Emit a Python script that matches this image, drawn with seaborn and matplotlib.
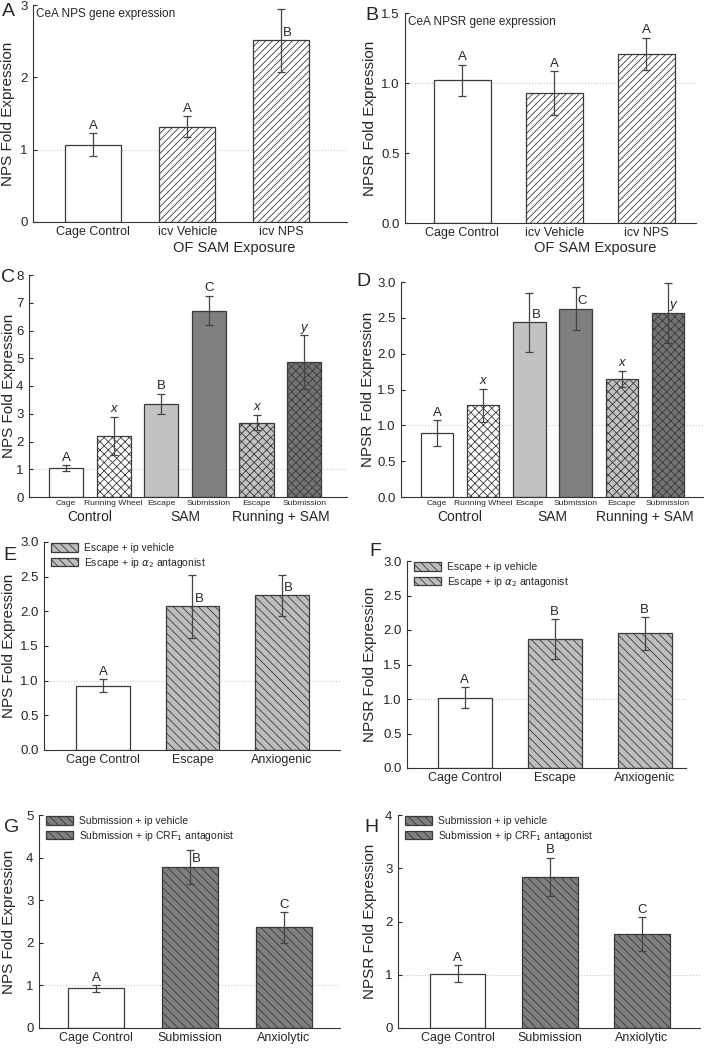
import matplotlib
matplotlib.use("Agg")
import numpy as np
import pandas as pd
import matplotlib.pyplot as plt
import matplotlib.transforms as mtrans
import seaborn as sns

# ---- data ----
a_names = ["Cage Control", "icv Vehicle", "icv NPS"]
a_means = [1.07, 1.32, 2.51]
a_errs = [0.16, 0.14, 0.44]
a_letters = ["A", "A", "B"]

b_names = ["Cage Control", "icv Vehicle", "icv NPS"]
b_means = [1.02, 0.93, 1.21]
b_errs = [0.11, 0.155, 0.115]
b_letters = ["A", "A", "A"]

cd_names = ["Cage", "Running Wheel", "Escape", "Submission", "Escape", "Submission"]
cd_groups = ["Control", "SAM", "Running + SAM"]
c_means = [1.03, 2.20, 3.35, 6.72, 2.68, 4.85]
c_errs = [0.11, 0.69, 0.37, 0.53, 0.28, 0.97]
c_letters = ["A", "x", "B", "C", "x", "y"]
d_means = [0.89, 1.28, 2.44, 2.63, 1.65, 2.57]
d_errs = [0.18, 0.23, 0.41, 0.295, 0.115, 0.42]
d_letters = ["A", "x", "B", "C", "x", "y"]

ef_names = ["Cage Control", "Escape", "Anxiogenic"]
ef_legend = ["Escape + ip vehicle", r"Escape + ip $\alpha_2$ antagonist"]
e_means = [0.93, 2.07, 2.23]
e_errs = [0.09, 0.45, 0.30]
e_letters = ["A", "B", "B"]
f_means = [1.02, 1.87, 1.95]
f_errs = [0.15, 0.285, 0.235]
f_letters = ["A", "B", "B"]

gh_names = ["Cage Control", "Submission", "Anxiolytic"]
gh_legend = ["Submission + ip vehicle", r"Submission + ip CRF$_1$ antagonist"]
g_means = [0.93, 3.79, 2.36]
g_errs = [0.075, 0.40, 0.36]
g_letters = ["A", "B", "C"]
h_means = [1.02, 2.84, 1.76]
h_errs = [0.155, 0.36, 0.32]
h_letters = ["A", "B", "C"]

sns.set_style("ticks")
plt.rcParams["font.family"] = ["Liberation Sans", "DejaVu Sans"]
plt.rcParams["hatch.linewidth"] = 0.6

W, H = 706, 1048
fig = plt.figure(figsize=(W / 100, H / 100), dpi=100)


def draw_panel(box, names, means, errs, letters, colors, hatches, ylim, yticks,
               ylabel, panel, panel_xy, ylab_x, xlim, width=0.6, limit=0.93,
               tick_fs=9, legend=None):
    l, t, r, b = box
    ax = fig.add_axes([l / W, 1 - b / H, (r - l) / W, (b - t) / H])
    keys = [str(i) for i in range(len(names))]
    df = pd.DataFrame({"key": keys, "val": means})
    sns.barplot(data=df, x="key", y="val", hue="key", palette=dict(zip(keys, colors)),
                legend=False, width=width, errorbar=None, edgecolor="#3a3a3a",
                linewidth=0.9, ax=ax, zorder=2)
    for p, h in zip(ax.patches, hatches):
        if h:
            p.set_hatch(h)
    ax.errorbar(range(len(means)), means, yerr=errs, fmt="none", ecolor="#444444",
                elinewidth=0.9, capsize=3, capthick=0.9, zorder=3)
    ax.axhline(1, color="#c8c8c8", ls=":", lw=0.8, zorder=0.5)

    # significance letters: above the error bar if room, else next to the bar top
    lim = ylim[1] * limit
    for i, (m, e, s) in enumerate(zip(means, errs, letters)):
        style = "italic" if s.islower() else "normal"
        if m + e <= lim:
            ax.annotate(s, (i, m + e), xytext=(0, 1), textcoords="offset points",
                        ha="center", va="bottom", fontsize=9.5, style=style)
        else:
            ax.annotate(s, (i, m), xytext=(1.5, 1), textcoords="offset points",
                        ha="left", va="bottom", fontsize=9.5, style=style)

    ax.set_ylim(*ylim)
    ax.set_xlim(*xlim)
    ax.set_yticks(yticks)
    ax.set_xticks(range(len(names)))
    ax.set_xticklabels(names, fontsize=tick_fs)
    ax.set_xlabel("")
    ax.set_ylabel(ylabel, fontsize=11, va="center")
    ax.yaxis.set_label_coords(ylab_x / W, 1 - (t + b) / 2 / H, transform=fig.transFigure)
    ax.tick_params(axis="y", direction="in", length=3, labelsize=9.5, pad=4)
    ax.tick_params(axis="x", length=0, pad=3)
    sns.despine(ax=ax)
    for sp in ["left", "bottom"]:
        ax.spines[sp].set_linewidth(0.8)
        ax.spines[sp].set_color("#333333")
    fig.text(panel_xy[0] / W, 1 - panel_xy[1] / H, panel, fontsize=14,
             ha="center", va="center")
    if legend:
        ax.legend(ax.patches[1:3], legend, loc="upper left", bbox_to_anchor=(0.0, 1.03),
                  frameon=False, fontsize=7.5, handlelength=2.6, handleheight=0.9,
                  handletextpad=0.5, labelspacing=0.25, borderaxespad=0.3)
    return ax


# A
ax = draw_panel((33, 5, 347, 222), a_names, a_means, a_errs, a_letters,
                ["white"] * 3, [None, "/////", "/////"], (0, 3), [0, 1, 2, 3],
                "NPS Fold Expression", "A", (8, 12), 8, (-0.64, 2.7))
ax.text(0.01, 0.985, "CeA NPS gene expression", transform=ax.transAxes,
        fontsize=8.5, ha="left", va="top")
ax.text(1.5, -0.12, "OF SAM Exposure", transform=mtrans.blended_transform_factory(
    ax.transData, ax.transAxes), ha="center", va="center", fontsize=10.5)

# B
ax = draw_panel((405, 13, 696, 223), b_names, b_means, b_errs, b_letters,
                ["white"] * 3, [None, "/////", "/////"], (0, 1.5), [0.0, 0.5, 1.0, 1.5],
                "NPSR Fold Expression", "B", (372, 16), 370, (-0.62, 2.54), width=0.62)
ax.yaxis.set_major_formatter(matplotlib.ticker.FormatStrFormatter("%.1f"))
ax.text(0.01, 0.985, "CeA NPSR gene expression", transform=ax.transAxes,
        fontsize=8.5, ha="left", va="top")
ax.text(1.45, -0.12, "OF SAM Exposure", transform=mtrans.blended_transform_factory(
    ax.transData, ax.transAxes), ha="center", va="center", fontsize=10.5)

# C and D
cd_colors = ["white", "white", "#c2c2c2", "#7f7f7f", "#c2c2c2", "#737373"]
cd_hatches = [None, "xxxx", None, None, "xxxx", "xxxx"]
for box, means, errs, letters, ylim, yticks, ylabel, panel, pxy, lx, xlim, w in [
    ((29, 275, 347, 497), c_means, c_errs, c_letters, (0, 8), list(range(9)),
     "NPS Fold Expression", "C", (8, 277), 9, (-0.78, 5.9), 0.72),
    ((401, 282, 703, 497), d_means, d_errs, d_letters, (0, 3),
     [0.0, 0.5, 1.0, 1.5, 2.0, 2.5, 3.0], "NPSR Fold Expression", "D", (363, 281), 368,
     (-0.78, 5.76), 0.7)]:
    ax = draw_panel(box, cd_names, means, errs, letters, cd_colors, cd_hatches, ylim,
                    yticks, ylabel, panel, pxy, lx, xlim, width=w, tick_fs=6.1)
    ax.tick_params(axis="x", pad=2)
    if panel == "D":
        ax.yaxis.set_major_formatter(matplotlib.ticker.FormatStrFormatter("%.1f"))
    tr = mtrans.blended_transform_factory(ax.transData, ax.transAxes)
    for j, grp in enumerate(cd_groups):
        ax.text(2 * j + 0.5, -0.092, grp, transform=tr, ha="center", va="center",
                fontsize=10)

# E and F
ef_colors = ["white", "#bdbdbd", "#bdbdbd"]
ef_hatches = [None, "\\\\\\\\", "\\\\\\\\"]
for box, means, errs, letters, ylabel, panel, pxy, lx, xlim in [
    ((44, 542, 340, 750), e_means, e_errs, e_letters, "NPS Fold Expression", "E",
     (10, 556), 9, (-0.66, 2.65)),
    ((407, 561, 686, 768), f_means, f_errs, f_letters, "NPSR Fold Expression", "F",
     (375, 552), 370, (-0.64, 2.46))]:
    ax = draw_panel(box, ef_names, means, errs, letters, ef_colors, ef_hatches, (0, 3),
                    [0.0, 0.5, 1.0, 1.5, 2.0, 2.5, 3.0], ylabel, panel, pxy, lx, xlim,
                    limit=0.82, legend=ef_legend)
    ax.yaxis.set_major_formatter(matplotlib.ticker.FormatStrFormatter("%.1f"))

# G and H
gh_colors = ["white", "#7f7f7f", "#7f7f7f"]
gh_hatches = [None, "\\\\\\\\", "\\\\\\\\"]
for box, means, errs, letters, ylim, yticks, ylabel, panel, pxy, lx, xlim in [
    ((39, 815, 340, 1028), g_means, g_errs, g_letters, (0, 5), list(range(6)),
     "NPS Fold Expression", "G", (12, 828), 9, (-0.61, 2.6)),
    ((398, 815, 700, 1028), h_means, h_errs, h_letters, (0, 4), list(range(5)),
     "NPSR Fold Expression", "H", (371, 828), 370, (-0.65, 2.63))]:
    draw_panel(box, gh_names, means, errs, letters, gh_colors, gh_hatches, ylim, yticks,
               ylabel, panel, pxy, lx, xlim, limit=0.82, legend=gh_legend)

fig.savefig("out.png", dpi=100)
